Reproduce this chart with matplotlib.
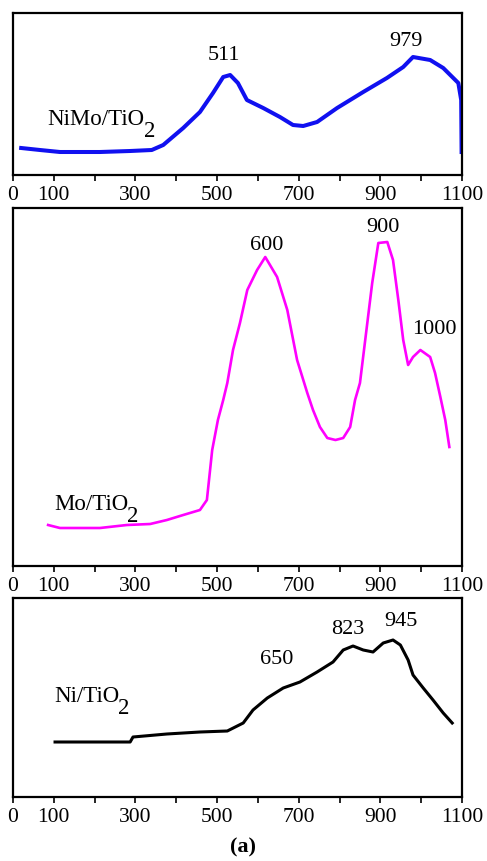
import numpy as np
import matplotlib
matplotlib.use("Agg")
import matplotlib.pyplot as plt

plt.rcParams["font.family"] = ["Liberation Serif", "DejaVu Serif"]

# Temperature axis (shared by all three panels)
tick_pos = list(range(0, 1101, 100))
tick_labels = ["0", "100", "", "300", "", "500", "", "700", "", "900", "", "1100"]

# NiMo/TiO2 (blue)
nimo_t = [20, 66, 115, 213, 287, 340, 368, 417, 458, 490, 515, 532, 551, 573,
          613, 654, 686, 711, 745, 794, 858, 916, 956, 980, 1022, 1054, 1091,
          1098, 1099]
nimo_y = [27, 25, 23, 23, 24, 25, 30, 47, 63, 82, 98, 100, 92, 75,
          67, 58, 50, 49, 53, 67, 83, 97, 108, 118, 115, 107, 92,
          75, 23]
nimo_peaks = [(511, 517, 120), (979, 962, 133)]  # label, x, y

# Mo/TiO2 (magenta)
mo_t = [86, 115, 164, 213, 279, 336, 377, 417, 458, 475, 488, 502, 515, 525,
        539, 556, 574, 598, 618, 647, 672, 696, 721, 735, 752, 770, 790, 809,
        826, 838, 850, 868, 880, 895, 917, 931, 944, 956, 968, 980, 998, 1022,
        1034, 1047, 1059, 1069]
mo_y = [41, 38, 38, 38, 41, 42, 46, 51, 56, 66, 116, 146, 166, 183,
        216, 243, 276, 296, 309, 289, 256, 206, 173, 156, 139, 128, 126, 128,
        139, 166, 183, 243, 283, 323, 324, 306, 266, 226, 201, 209, 216, 209,
        193, 169, 146, 119]
mo_peaks = [(600, 622, 321), (900, 907, 339), (1000, 1033, 236)]

# Ni/TiO2 (black)
ni_t = [103, 287, 294, 377, 458, 525, 564, 588, 623, 662, 703, 745, 784, 809,
        833, 858, 882, 907, 931, 949, 968, 980, 1005, 1029, 1054, 1076]
ni_y = [55, 55, 60, 63, 65, 66, 74, 87, 99, 109, 115, 125, 135, 147,
        151, 147, 145, 154, 157, 152, 137, 122, 109, 97, 84, 74]
ni_peaks = [(650, 647, 137), (823, 820, 167), (945, 950, 175)]

W, H = 487, 861
fig = plt.figure(figsize=(W / 100, H / 100), dpi=100)


def panel(top, bottom, t, y, color, lw, peaks, name, name_xy):
    ax = fig.add_axes([13 / W, 1 - bottom / H, 449 / W, (bottom - top) / H])
    ax.plot(t, y, color=color, lw=lw, solid_joinstyle="round")
    ax.set_xlim(0, 1100)
    ax.set_ylim(0, bottom - top)
    ax.set_yticks([])
    ax.set_xticks(tick_pos)
    ax.set_xticklabels(tick_labels, fontsize=15.5)
    ax.tick_params(axis="x", direction="out", length=4, width=1.2, pad=4)
    for s in ax.spines.values():
        s.set_linewidth(1.6)
    for lab, px, py in peaks:
        ax.text(px, py, str(lab), fontsize=16, ha="center", va="center")
    txt = ax.text(name_xy[0], name_xy[1], name, fontsize=16.5, ha="left",
                  va="baseline")
    ax.annotate("2", xy=(1.0, 0.0), xycoords=txt, xytext=(-0.5, -1),
                textcoords="offset points", fontsize=16.5, ha="left",
                va="center")
    return ax


panel(13, 175, nimo_t, nimo_y, "#1010f0", 2.9, nimo_peaks, "NiMo/TiO",
      (85, 50))
panel(208, 566, mo_t, mo_y, "#ff00ff", 1.9, mo_peaks, "Mo/TiO", (100, 56))
panel(598, 797, ni_t, ni_y, "black", 2.2, ni_peaks, "Ni/TiO", (100, 95))

fig.text(243 / W, 1 - 847 / H, "(a)", fontsize=16, fontweight="bold",
         ha="center", va="center")

fig.savefig("out.png", dpi=100)
